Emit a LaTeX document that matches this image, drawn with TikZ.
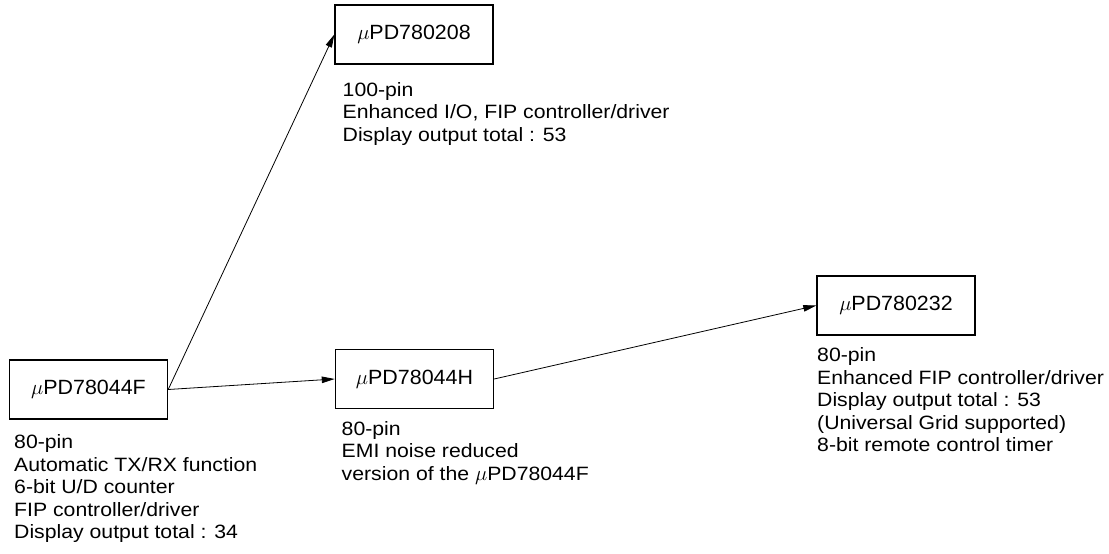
\documentclass[tikz,border=0pt]{standalone}
\usepackage{fontspec}
\setmainfont{Liberation Sans}
\newfontfamily\lowfont{Liberation Sans}[FakeStretch=1.1]
\newfontfamily\boxfont{Liberation Sans}[FakeStretch=1.04]
\usetikzlibrary{arrows.meta}
\begin{document}
\begin{tikzpicture}[x=1pt,y=-1pt,
  chip/.style={draw,line width=1.4pt,minimum width=158pt,minimum height=59pt,inner sep=0pt,
    font=\boxfont\fontsize{20.6}{24}\selectfont},
  desc/.style={anchor=north west,inner sep=0pt,align=left,
    font=\lowfont\fontsize{19.3}{22.5}\selectfont},
  link/.style={line width=0.8pt,-{Triangle[length=13pt,width=6.5pt]}}]
\useasboundingbox (0,0) rectangle (1109,554);
\node[chip] (f) at (88.5,389.5) {$\mu$PD78044F};
\node[chip] (a) at (414,34.5) {$\mu$PD780208};
\node[chip] (h) at (414.5,379) {$\mu$PD78044H};
\node[chip] (b) at (896,305.5) {$\mu$PD780232};
\node[desc] (fd) at (14,434.5) {80-pin\\Automatic TX/RX function\\6-bit U/D counter\\FIP controller/driver\\Display output total : 34};
\node[desc] (ad) at (342.5,82) {100-pin\\Enhanced I/O, FIP controller/driver\\Display output total : 53};
\node[desc] (hd) at (341.5,421) {80-pin\\EMI noise reduced\\version of the $\mu$PD78044F};
\node[desc] (bd) at (817,347.5) {80-pin\\Enhanced FIP controller/driver\\Display output total : 53\\(Universal Grid supported)\\8-bit remote control timer};
\draw[link] (f.east) -- (a.west);
\draw[link] (f.east) -- (h.west);
\draw[link] (h.east) -- (b.west);
\end{tikzpicture}
\end{document}
